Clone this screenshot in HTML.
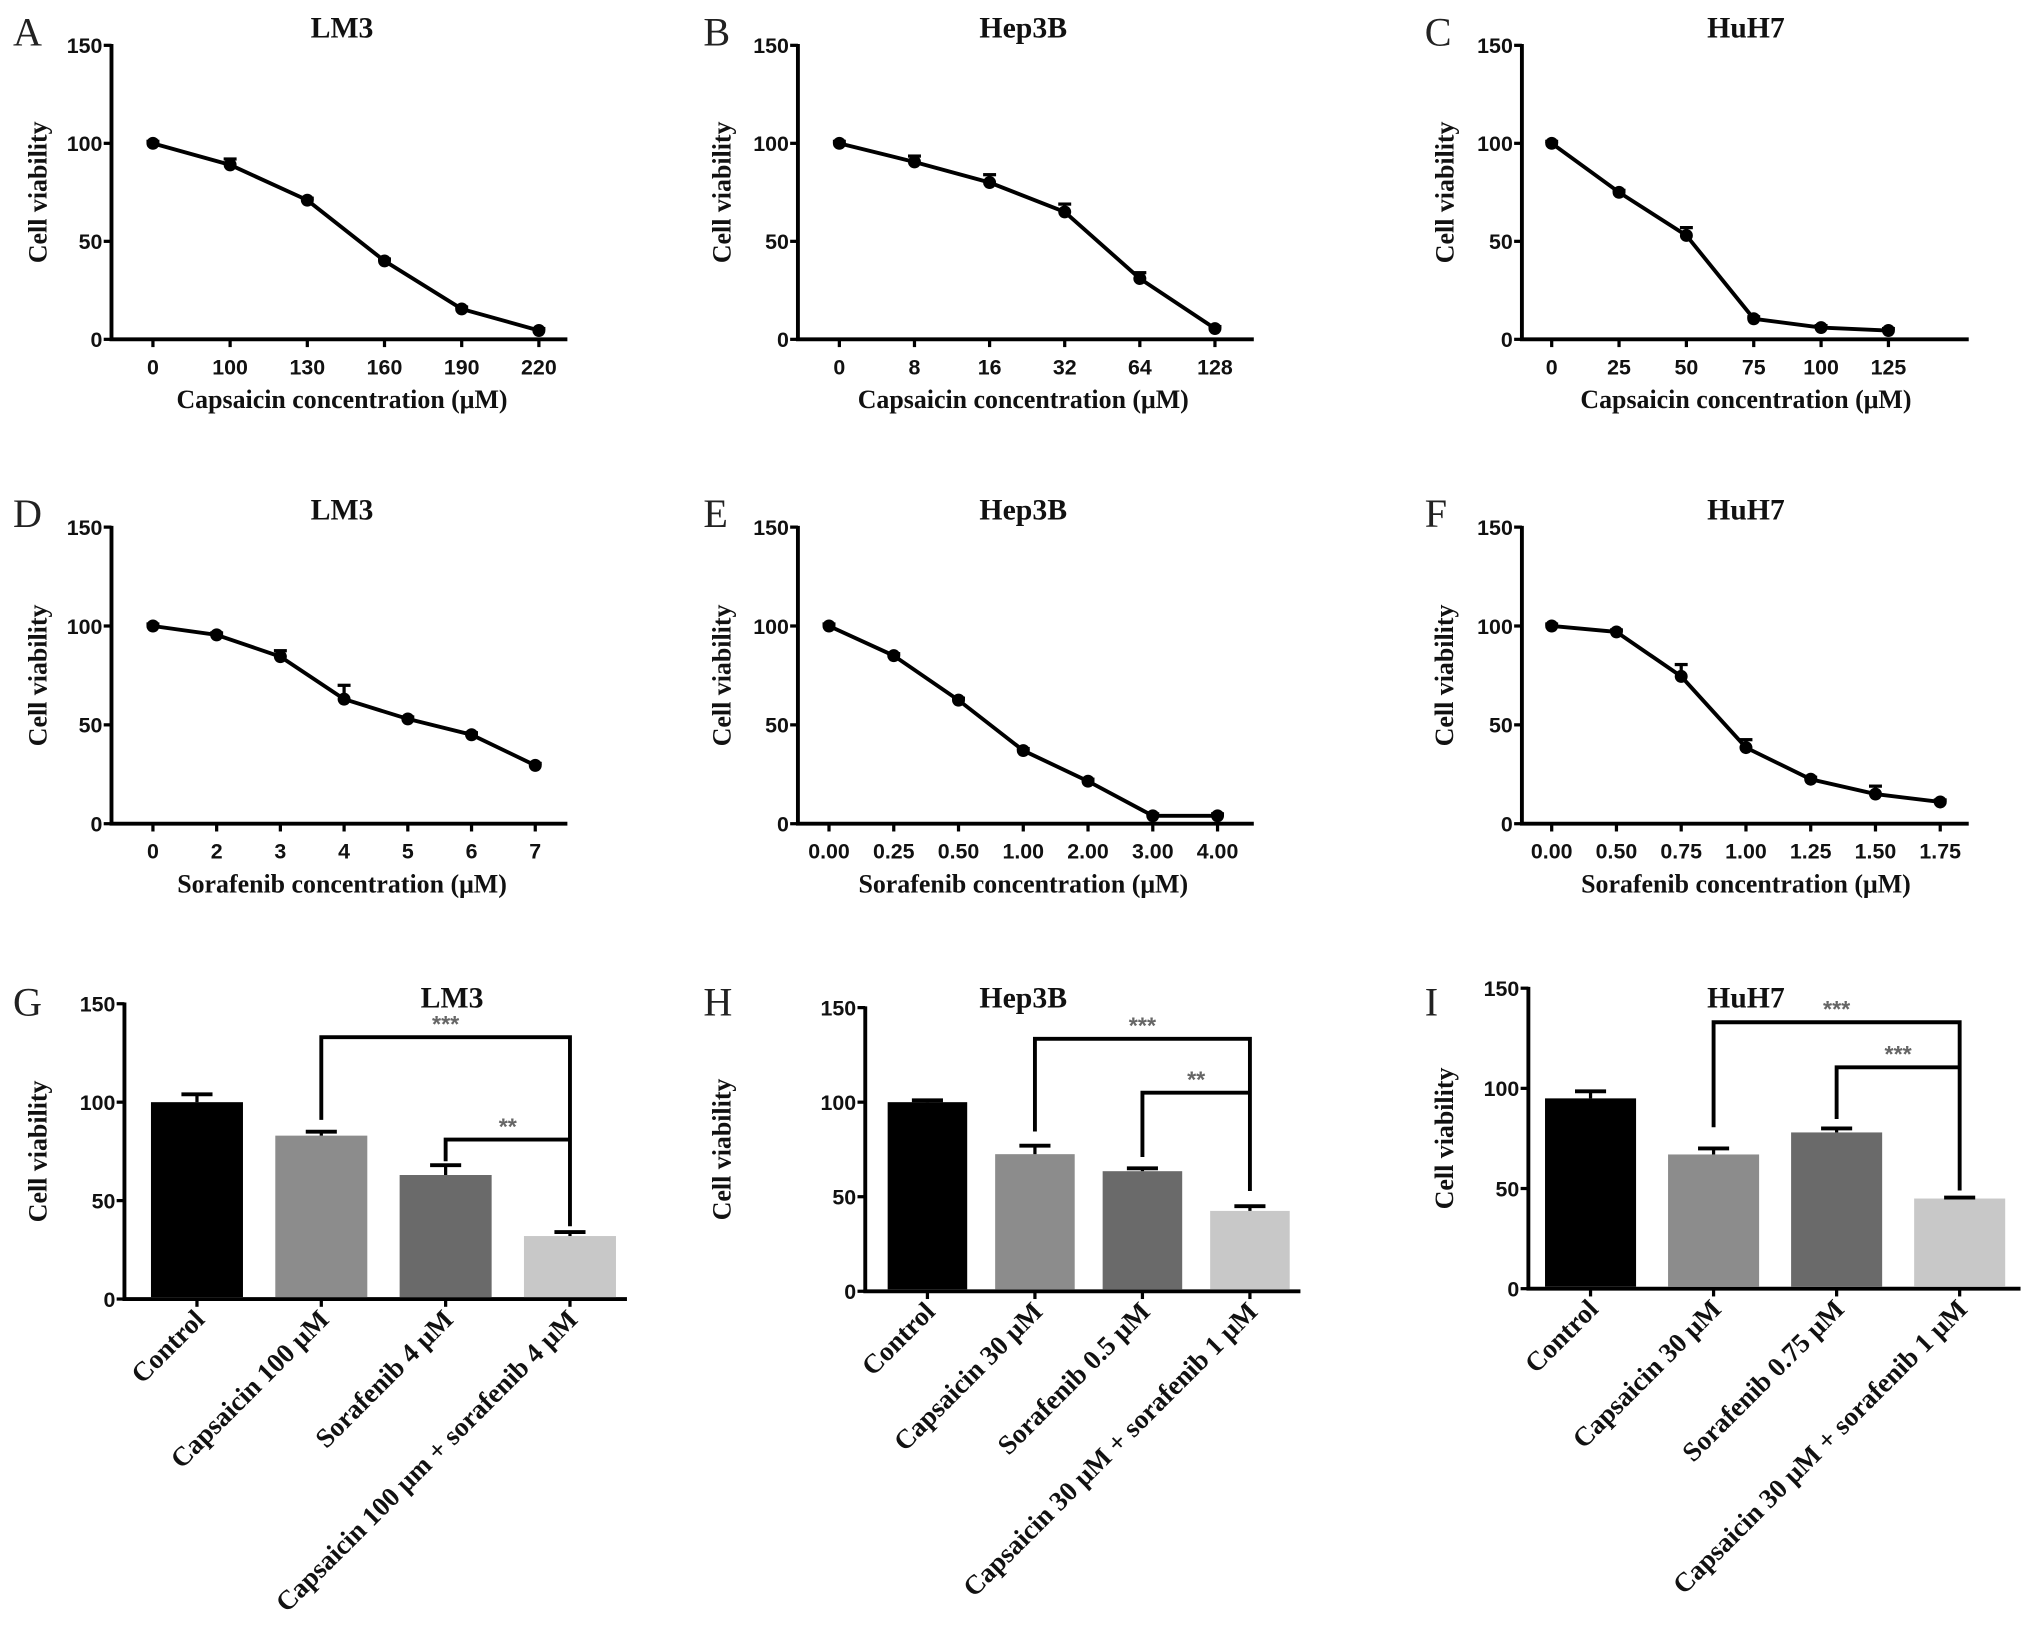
<!DOCTYPE html>
<html><head><meta charset="utf-8"><style>
html,body{margin:0;padding:0;background:#fff;}
svg{display:block;}
.tk{font-family:"Liberation Sans",sans-serif;font-weight:bold;font-size:16.5px;fill:#111;}
.ti{font-family:"Liberation Serif",serif;font-weight:bold;font-size:23px;fill:#111;}
.ax{font-family:"Liberation Serif",serif;font-weight:bold;font-size:20px;fill:#111;}
.bl{font-family:"Liberation Serif",serif;font-weight:bold;font-size:21px;fill:#111;}
.yt{font-family:"Liberation Serif",serif;font-weight:bold;font-size:20px;fill:#111;}
.lt{font-family:"Liberation Serif",serif;font-size:31px;fill:#222;}
.st{font-family:"Liberation Sans",sans-serif;font-weight:bold;font-size:18px;fill:#666;}
</style></head><body>
<svg id="fig" width="2031" height="1628" viewBox="0 0 1568 1257" xmlns="http://www.w3.org/2000/svg"></svg>
<script>
// ---- data ----
const catsA=["0","100","130","160","190","220"];
const valsA=[100,89,71,40,15.5,4.5];
const errA=[1,3,1,1,1,1];
const catsB=["0","8","16","32","64","128"];
const valsB=[100,90.5,80,65,31,5.5];
const errB=[1,3,4,4,3,1];
const catsC=["0","25","50","75","100","125"];
const valsC=[100,75,53,10.5,6,4.5];
const errC=[1,1,4,1,1,1];
const catsD=["0","2","3","4","5","6","7"];
const valsD=[100,95.5,84.5,63,53,45,29.5];
const errD=[1,1,3,7,1,1,1];
const catsE=["0.00","0.25","0.50","1.00","2.00","3.00","4.00"];
const valsE=[100,85,62.5,37,21.5,4,4];
const errE=[1,1,1,1,1,1,1];
const catsF=["0.00","0.50","0.75","1.00","1.25","1.50","1.75"];
const valsF=[100,97,74.5,38.5,22.5,15,11];
const errF=[1,1,6,4,1,4,1];
const catsG=["Control","Capsaicin 100 μM","Sorafenib 4 μM","Capsaicin 100 μm + sorafenib 4 μM"];
const valsG=[100,83,63,32];
const errG=[4,2,5,2];
const catsH=["Control","Capsaicin 30 μM","Sorafenib 0.5 μM","Capsaicin 30 μM + sorafenib 1 μM"];
const valsH=[100,72.5,63.5,42.5];
const errH=[1,4.5,1.5,2.5];
const catsI=["Control","Capsaicin 30 μM","Sorafenib 0.75 μM","Capsaicin 30 μM + sorafenib 1 μM"];
const valsI=[95,67,78,45];
const errI=[3.5,3,2,0.5];
const yTicks=[0,50,100,150];
const barColors=["#000000","#8c8c8c","#6a6a6a","#c8c8c8"];

const svg=document.getElementById('fig');
const NS="http://www.w3.org/2000/svg";
function mk(tag,a,parent){const e=document.createElementNS(NS,tag);for(const k in a)e.setAttribute(k,a[k]);(parent||svg).appendChild(e);return e;}

function axes(p){
  const g=mk('g',{});
  
  
  const ys=v=>p.y0-(v/150)*(p.y0-p.y150);
  let t=mk('text',{x:p.letterX,y:p.titleY+6,class:'lt'},g);t.textContent=p.id;
  
  
  t=mk('text',{x:p.titleX,y:p.titleY,class:'ti','text-anchor':'middle'},g);t.textContent=p.title;
  
  
  let l=mk('line',{x1:p.ax,y1:p.y150-1,x2:p.ax,y2:p.y0+1,stroke:'#000','stroke-width':3},g);
  
  
  l=mk('line',{x1:p.ax-1.5,y1:p.y0,x2:p.axEnd,y2:p.y0,stroke:'#000','stroke-width':3},g);
  
  
  yTicks.forEach(v=>{
    mk('line',{x1:p.ax-6,y1:ys(v),x2:p.ax,y2:ys(v),stroke:'#000','stroke-width':2.5},g);
    const tx=mk('text',{x:p.ax-7,y:ys(v)+6,class:'tk','text-anchor':'end'},g);tx.textContent=v;
    
    
  });
  const yc=(p.y150+p.y0)/2;
  t=mk('text',{x:p.ylabX,y:yc,class:'yt','text-anchor':'middle',transform:`rotate(-90 ${p.ylabX} ${yc})`},g);t.textContent='Cell viability';
  
  
  return {g,ys};
}

function linePanel(p,cats,vals,errs){
  const {g,ys}=axes(p);
  const xs=i=>p.x0+i*p.step;
  cats.forEach((c,i)=>{
    mk('line',{x1:xs(i),y1:p.y0,x2:xs(i),y2:p.y0+6,stroke:'#000','stroke-width':2.5},g);
    const tx=mk('text',{x:xs(i),y:p.y0+27,class:'tk','text-anchor':'middle'},g);tx.textContent=c;
    
    
  });
  let t=mk('text',{x:p.titleX,y:p.y0+53,class:'ax','text-anchor':'middle'},g);t.textContent=p.xTitle;
  
  
  const pts=vals.map((v,i)=>xs(i)+','+ys(v)).join(' ');
  const pl=mk('polyline',{points:pts,fill:'none',stroke:'#000','stroke-width':3},g);
  
  
  vals.forEach((v,i)=>{
    mk('line',{x1:xs(i),y1:ys(v),x2:xs(i),y2:ys(v+errs[i]),stroke:'#000','stroke-width':2.5},g);
    mk('line',{x1:xs(i)-5,y1:ys(v+errs[i]),x2:xs(i)+5,y2:ys(v+errs[i]),stroke:'#000','stroke-width':2.5},g);
    const c=mk('circle',{cx:xs(i),cy:ys(v),r:5,fill:'#000'},g);
    
    
  });
}

function barPanel(p,cats,vals,errs,brs){
  const {g,ys}=axes(p);
  const xs=i=>p.x0+i*p.step;
  const w=p.step*0.74;
  cats.forEach((c,i)=>{
    const r=mk('rect',{x:xs(i)-w/2,y:ys(vals[i]),width:w,height:p.y0-ys(vals[i])-1.5,fill:barColors[i]},g);
    
    
    mk('line',{x1:xs(i),y1:ys(vals[i]),x2:xs(i),y2:ys(vals[i]+errs[i]),stroke:'#000','stroke-width':2.5},g);
    mk('line',{x1:xs(i)-12,y1:ys(vals[i]+errs[i]),x2:xs(i)+12,y2:ys(vals[i]+errs[i]),stroke:'#000','stroke-width':3},g);
    mk('line',{x1:xs(i),y1:p.y0,x2:xs(i),y2:p.y0+6,stroke:'#000','stroke-width':2.5},g);
    const lx=xs(i)+7, ly=p.y0+17;
    const tx=mk('text',{x:lx,y:ly,class:'bl','text-anchor':'end',transform:`rotate(-45 ${lx} ${ly})`},g);tx.textContent=c;
    
    
  });
  brs.forEach(b=>{
    const xa=xs(b.a), xb=xs(b.b);
    const pl=mk('polyline',{points:`${xa},${ys(b.la)} ${xa},${ys(b.y)} ${xb},${ys(b.y)} ${xb},${ys(b.lb)}`,fill:'none',stroke:'#000','stroke-width':3},g);
    
    
    const st=mk('text',{x:(xa+xb)/2,y:ys(b.y)-4,class:'st','text-anchor':'middle'},g);st.textContent=b.s;
    
    
  });
}

const capT='Capsaicin concentration (μM)', sorT='Sorafenib concentration (μM)';
linePanel({id:'A',title:'LM3',letterX:10,titleX:264,titleY:29,ax:86,axEnd:438,y150:35,y0:262,ylabX:36,x0:118,step:59.6,xTitle:capT},catsA,valsA,errA);
linePanel({id:'B',title:'Hep3B',letterX:543,titleX:790,titleY:29,ax:616,axEnd:968,y150:35,y0:262,ylabX:564,x0:648,step:58,xTitle:capT},catsB,valsB,errB);
linePanel({id:'C',title:'HuH7',letterX:1100,titleX:1348,titleY:29,ax:1175,axEnd:1520,y150:35,y0:262,ylabX:1122,x0:1198,step:52,xTitle:capT},catsC,valsC,errC);
linePanel({id:'D',title:'LM3',letterX:10,titleX:264,titleY:401,ax:86,axEnd:438,y150:407,y0:636,ylabX:36,x0:118,step:49.2,xTitle:sorT},catsD,valsD,errD);
linePanel({id:'E',title:'Hep3B',letterX:543,titleX:790,titleY:401,ax:616,axEnd:968,y150:407,y0:636,ylabX:564,x0:640,step:50,xTitle:sorT},catsE,valsE,errE);
linePanel({id:'F',title:'HuH7',letterX:1100,titleX:1348,titleY:401,ax:1175,axEnd:1520,y150:407,y0:636,ylabX:1122,x0:1198,step:50,xTitle:sorT},catsF,valsF,errF);
barPanel({id:'G',title:'LM3',letterX:10,titleX:349,titleY:778,ax:96,axEnd:484,y150:775,y0:1003,ylabX:36,x0:152,step:96},catsG,valsG,errG,
 [{a:1,b:3,y:133,la:91,lb:37,s:'***'},{a:2,b:3,y:81,la:70,lb:81,s:'**'}]);
barPanel({id:'H',title:'Hep3B',letterX:543,titleX:790,titleY:778,ax:668,axEnd:1004,y150:778,y0:997,ylabX:564,x0:716,step:83},catsH,valsH,errH,
 [{a:1,b:3,y:133.5,la:84.5,lb:53,s:'***'},{a:2,b:3,y:105,la:71,lb:105,s:'**'}]);
barPanel({id:'I',title:'HuH7',letterX:1100,titleX:1348,titleY:778,ax:1180,axEnd:1560,y150:763,y0:995,ylabX:1122,x0:1228,step:95},catsI,valsI,errI,
 [{a:1,b:3,y:133,la:80.6,lb:49,s:'***'},{a:2,b:3,y:110.5,la:84.7,lb:110.5,s:'***'}]);
</script>
</body></html>
